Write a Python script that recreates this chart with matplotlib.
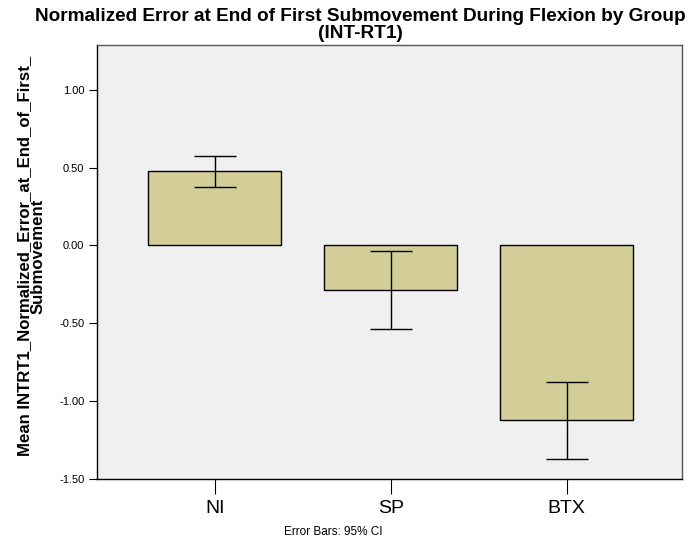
import numpy as np
import matplotlib
matplotlib.use("Agg")
import matplotlib.pyplot as plt

plt.rcParams["font.family"] = ["Liberation Sans", "DejaVu Sans"]

groups = ["NI", "SP", "BTX"]
means = [0.475, -0.285, -1.12]
ci_low = [0.378, -0.539, -1.373]
ci_high = [0.571, -0.034, -0.879]
y_ticks = [1.0, 0.5, 0.0, -0.5, -1.0, -1.5]

BAR_COLOR = "#d3ce98"
BG_COLOR = "#f0f0f0"

fig = plt.figure(figsize=(6.92, 5.45), dpi=100)
ax = fig.add_axes([0.140, 0.121, 0.8455, 0.796])
ax.set_facecolor(BG_COLOR)

x = np.arange(len(groups))
means_arr = np.array(means)
yerr = np.vstack([means_arr - np.array(ci_low), np.array(ci_high) - means_arr])

ax.bar(x, means, width=0.755, color=BAR_COLOR, edgecolor="black", linewidth=1.0, zorder=2)
ax.errorbar(x, means, yerr=yerr, fmt="none", ecolor="black", elinewidth=1.0,
            capsize=15, capthick=1.0, zorder=3)

ax.set_xlim(-0.67, 2.656)
ax.set_ylim(-1.5, 1.285)
ax.set_xticks(x)
ax.set_xticklabels(groups, fontsize=14)
ax.set_yticks(y_ticks)
ax.set_yticklabels([f"{v:.2f}" for v in y_ticks], fontsize=8)
ax.tick_params(axis="x", direction="out", length=11, width=0.8, pad=4)
ax.tick_params(axis="y", direction="out", length=6, width=0.8, pad=3)

for side in ["left", "bottom", "right", "top"]:
    ax.spines[side].set_linewidth(1.0)
    ax.spines[side].set_color("black")
ax.spines["right"].set_color("#555555")
ax.spines["top"].set_color("#555555")

ax.set_ylabel("Mean INTRT1_Normalized_Error_at_End_of_First_\nSubmovement",
              fontsize=12.1, fontweight="bold", linespacing=0.95)
ax.yaxis.set_label_coords(-0.087, 0.514)

# title is centred on the figure rather than the axes
fig.text(0.521, 0.986,
         "Normalized Error at End of First Submovement During Flexion by Group\n(INT-RT1)",
         fontsize=13.7, fontweight="bold", linespacing=1.02, ha="center", va="top")

fig.text(0.481, 0.024, "Error Bars: 95% CI", fontsize=8.5, ha="center", va="center")

fig.savefig("out.png", dpi=100)
